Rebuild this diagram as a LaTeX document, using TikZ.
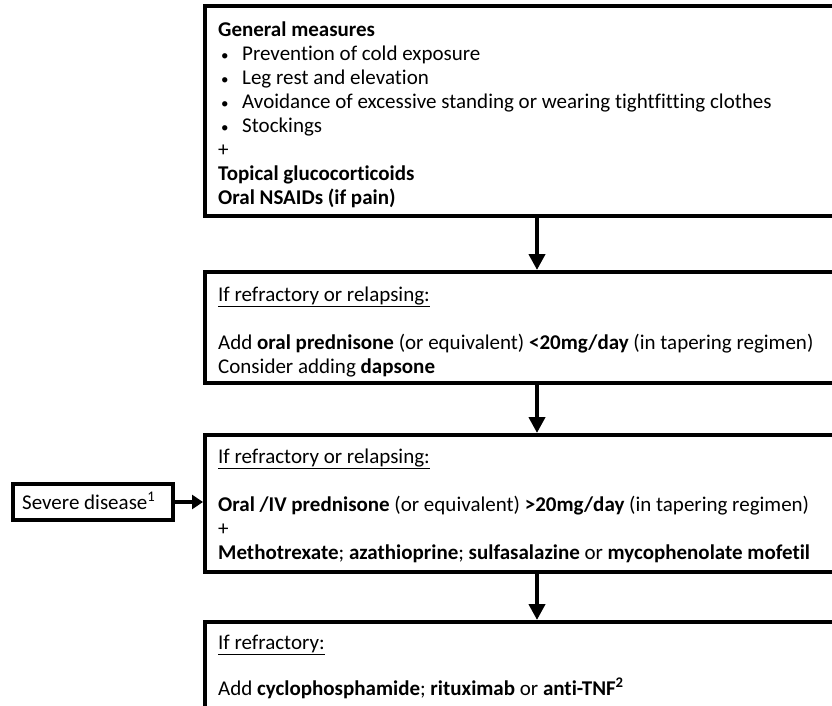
\documentclass[tikz,border=0pt]{standalone}
\usepackage{fontspec}
\setmainfont[Ligatures=NoCommon]{Carlito}
\usetikzlibrary{arrows.meta}
\begin{document}
\begin{tikzpicture}[x=1pt,y=-1pt,
  box/.style={draw, line width=4pt, rectangle, inner sep=0pt},
  txt/.style={anchor=base west, inner sep=0pt, font=\fontsize{21}{24}\selectfont},
  bul/.style={anchor=base west, inner sep=0pt, font=\fontsize{15}{18}\selectfont},
  arr/.style={line width=4pt, -{Triangle[width=16pt,length=16pt]}},
  arrs/.style={line width=4pt, -{Triangle[width=14pt,length=11pt]}}]
\useasboundingbox (0,0) rectangle (832,705);
\clip (0,0) rectangle (832,705);
% boxes
\node[box, minimum width=640pt, minimum height=210pt] (b1) at (525,111) {};
\node[box, minimum width=640pt, minimum height=111pt] (b2) at (525,327.5) {};
\node[box, minimum width=640pt, minimum height=137pt] (b3) at (525,503.5) {};
\node[box, minimum width=640pt, minimum height=100pt] (b4) at (525,672) {};
\node[box, minimum width=160pt, minimum height=36pt] (sev) at (93,502) {};
% box 1 text
\node[txt] (t1a) at (218,36) {\textbf{General measures}};
\node[bul] (t1b0) at (221,60) {•};
\node[txt] (t1b) at (242,60) {Prevention of cold exposure};
\node[bul] (t1c0) at (221,84) {•};
\node[txt] (t1c) at (242,84) {Leg rest and elevation};
\node[bul] (t1d0) at (221,108) {•};
\node[txt] (t1d) at (242,108) {Avoidance of excessive standing or wearing tightfitting clothes};
\node[bul] (t1e0) at (221,132) {•};
\node[txt] (t1e) at (242,132) {Stockings};
\node[txt] (t1f) at (218,156) {+};
\node[txt] (t1g) at (218,180) {\textbf{Topical glucocorticoids}};
\node[txt] (t1h) at (218,204) {\textbf{Oral NSAIDs (if pain)}};
% box 2 text
\node[txt] (t2a) at (218,301) {\underline{If refractory or relapsing:}};
\node[txt] (t2b) at (218,349) {Add \textbf{oral prednisone} (or equivalent) \textbf{<20mg/day} (in tapering regimen)};
\node[txt] (t2c) at (218,373) {Consider adding \textbf{dapsone}};
% box 3 text
\node[txt] (t3a) at (218,463) {\underline{If refractory or relapsing:}};
\node[txt] (t3b) at (218,511) {\textbf{Oral /IV prednisone} (or equivalent) \textbf{>20mg/day} (in tapering regimen)};
\node[txt] (t3c) at (218,535) {+};
\node[txt] (t3d) at (218,559) {\textbf{Methotrexate}; \textbf{azathioprine}; \textbf{sulfasalazine} or \textbf{mycophenolate mofetil}};
% box 4 text
\node[txt] (t4a) at (218,649) {\underline{If refractory:}};
\node[txt] (t4b) at (218,695) {Add \textbf{cyclophosphamide}; \textbf{rituximab} or \textbf{anti-TNF\textsuperscript{2}}};
% severe
\node[txt] (ts) at (22,509) {Severe disease\textsuperscript{1}};
% arrows
\coordinate (ax) at (537,0);
\draw[arr] (b1.south -| ax) -- (b2.north -| ax);
\draw[arr] (b2.south -| ax) -- (b3.north -| ax);
\draw[arr] (b3.south -| ax) -- (b4.north -| ax);
\draw[arrs] (sev.east) -- (sev.east -| b3.west);
\end{tikzpicture}
\end{document}
